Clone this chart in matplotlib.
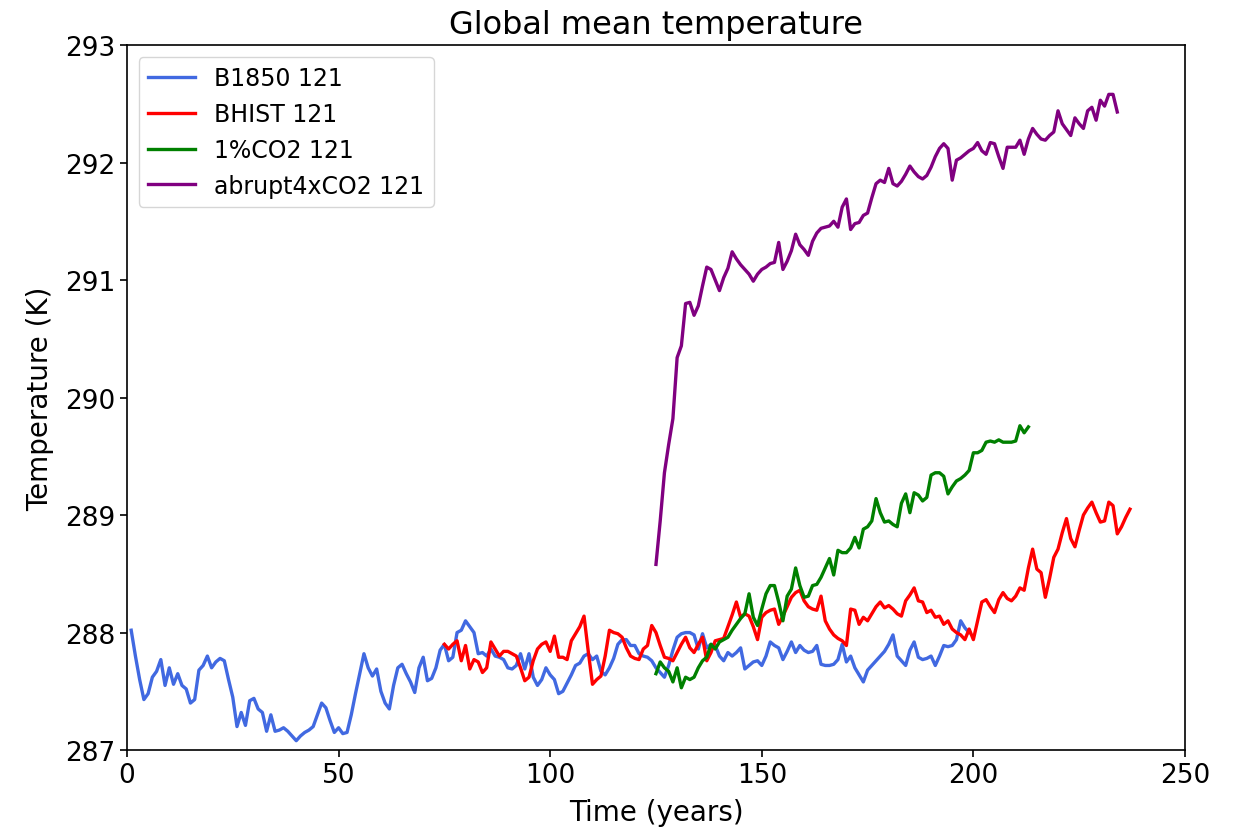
import matplotlib

matplotlib.use("Agg")
import matplotlib.pyplot as plt
import numpy as np

# annual global mean temperature (K)
b1850_start = 1
b1850 = [
    288.02, 287.80, 287.60, 287.43, 287.48, 287.62, 287.67, 287.77, 287.55, 287.70,
    287.56, 287.65, 287.55, 287.52, 287.40, 287.43, 287.68, 287.72, 287.80, 287.70,
    287.75, 287.78, 287.76, 287.60, 287.45, 287.20, 287.32, 287.21, 287.42, 287.44,
    287.35, 287.32, 287.16, 287.30, 287.16, 287.17, 287.19, 287.16, 287.12, 287.08,
    287.12, 287.15, 287.17, 287.20, 287.30, 287.40, 287.36, 287.25, 287.15, 287.19,
    287.14, 287.15, 287.30, 287.48, 287.65, 287.82, 287.70, 287.63, 287.69, 287.50,
    287.40, 287.35, 287.55, 287.70, 287.73, 287.65, 287.58, 287.49, 287.70, 287.79,
    287.59, 287.61, 287.70, 287.85, 287.90, 287.76, 287.79, 288.00, 288.02, 288.10,
    288.05, 288.00, 287.82, 287.83, 287.80, 287.86, 287.80, 287.79, 287.77, 287.70,
    287.69, 287.72, 287.82, 287.69, 287.82, 287.62, 287.55, 287.60, 287.70, 287.64,
    287.60, 287.48, 287.50, 287.57, 287.64, 287.72, 287.74, 287.80, 287.82, 287.77,
    287.80, 287.67, 287.64, 287.70, 287.78, 287.90, 287.94, 287.94, 287.89, 287.89,
    287.82, 287.80, 287.79, 287.76, 287.70, 287.66, 287.62, 287.72, 287.85, 287.96,
    287.99, 288.00, 288.00, 287.98, 287.86, 287.99, 287.87, 287.90, 287.89, 287.80,
    287.76, 287.83, 287.80, 287.83, 287.87, 287.69, 287.72, 287.75, 287.76, 287.72,
    287.80, 287.92, 287.89, 287.87, 287.77, 287.84, 287.92, 287.83, 287.89, 287.85,
    287.83, 287.84, 287.89, 287.73, 287.72, 287.72, 287.73, 287.77, 287.90, 287.75,
    287.80, 287.70, 287.64, 287.58, 287.68, 287.72, 287.76, 287.80, 287.84, 287.90,
    287.98, 287.80, 287.76, 287.72, 287.85, 287.92, 287.79, 287.77, 287.78, 287.80,
    287.72, 287.80, 287.89, 287.88, 287.89, 287.94, 288.10, 288.04, 288.00,
]

bhist_start = 75
bhist = [
    287.90, 287.86, 287.90, 287.93, 287.76, 287.89, 287.69, 287.77, 287.75, 287.66,
    287.70, 287.92, 287.86, 287.80, 287.84, 287.84, 287.82, 287.80, 287.70, 287.59,
    287.62, 287.76, 287.86, 287.90, 287.92, 287.84, 287.97, 287.79, 287.79, 287.77,
    287.93, 287.99, 288.05, 288.14, 287.84, 287.56, 287.60, 287.63, 287.80, 288.02,
    288.00, 287.99, 287.96, 287.87, 287.80, 287.78, 287.77, 287.86, 287.89, 288.06,
    288.00, 287.89, 287.79, 287.78, 287.76, 287.83, 287.90, 287.96, 287.87, 287.83,
    287.90, 287.96, 287.76, 287.83, 287.93, 287.94, 287.95, 288.05, 288.15, 288.26,
    288.13, 288.16, 288.14, 288.05, 287.94, 288.13, 288.17, 288.19, 288.20, 288.07,
    288.14, 288.22, 288.30, 288.34, 288.36, 288.27, 288.22, 288.20, 288.19, 288.31,
    288.10, 288.03, 287.98, 287.95, 287.93, 287.89, 288.20, 288.19, 288.07, 288.13,
    288.10, 288.16, 288.22, 288.26, 288.21, 288.23, 288.20, 288.16, 288.14, 288.27,
    288.32, 288.38, 288.27, 288.26, 288.17, 288.19, 288.13, 288.14, 288.07, 288.10,
    288.03, 288.00, 287.98, 287.94, 288.03, 287.94, 288.10, 288.26, 288.28, 288.22,
    288.17, 288.28, 288.34, 288.29, 288.27, 288.31, 288.38, 288.36, 288.55, 288.71,
    288.54, 288.51, 288.30, 288.46, 288.64, 288.71, 288.85, 288.97, 288.80, 288.73,
    288.87, 289.00, 289.06, 289.11, 289.02, 288.94, 288.95, 289.11, 289.08, 288.84,
    288.90, 288.98, 289.05,
]

co2_1pct_start = 125
co2_1pct = [
    287.65, 287.75, 287.70, 287.67, 287.58, 287.70, 287.53, 287.62, 287.60, 287.62,
    287.70, 287.76, 287.79, 287.90, 287.86, 287.92, 287.94, 287.96, 288.02, 288.07,
    288.12, 288.16, 288.33, 288.13, 288.06, 288.20, 288.33, 288.40, 288.40, 288.26,
    288.10, 288.31, 288.37, 288.55, 288.40, 288.30, 288.31, 288.40, 288.41, 288.47,
    288.55, 288.63, 288.49, 288.70, 288.68, 288.68, 288.72, 288.81, 288.72, 288.88,
    288.90, 288.95, 289.14, 289.02, 288.94, 288.95, 288.92, 288.90, 289.10, 289.18,
    289.02, 289.19, 289.17, 289.12, 289.15, 289.34, 289.36, 289.36, 289.33, 289.18,
    289.24, 289.29, 289.31, 289.34, 289.38, 289.53, 289.53, 289.55, 289.62, 289.63,
    289.62, 289.64, 289.62, 289.62, 289.62, 289.63, 289.76, 289.70, 289.75,
]

abrupt4x_start = 125
abrupt4x = [
    288.58, 288.95, 289.36, 289.60, 289.82, 290.34, 290.44, 290.80, 290.81, 290.70,
    290.78, 290.95, 291.11, 291.09, 291.00, 290.91, 291.02, 291.10, 291.24, 291.18,
    291.13, 291.09, 291.05, 290.99, 291.05, 291.09, 291.11, 291.14, 291.15, 291.32,
    291.09, 291.16, 291.25, 291.39, 291.30, 291.26, 291.21, 291.33, 291.40, 291.44,
    291.45, 291.46, 291.50, 291.45, 291.62, 291.69, 291.43, 291.48, 291.49, 291.55,
    291.57, 291.70, 291.82, 291.85, 291.83, 291.95, 291.82, 291.80, 291.84, 291.90,
    291.97, 291.92, 291.88, 291.86, 291.89, 291.96, 292.05, 292.12, 292.16, 292.12,
    291.85, 292.02, 292.04, 292.07, 292.10, 292.12, 292.17, 292.10, 292.07, 292.17,
    292.16, 292.05, 291.95, 292.13, 292.13, 292.13, 292.19, 292.07, 292.20, 292.29,
    292.24, 292.20, 292.19, 292.23, 292.26, 292.44, 292.33, 292.28, 292.23, 292.38,
    292.33, 292.29, 292.44, 292.47, 292.36, 292.53, 292.48, 292.58, 292.58, 292.43,
]

series = [
    ("B1850 121", b1850_start, b1850, "royalblue"),
    ("BHIST 121", bhist_start, bhist, "red"),
    ("1%CO2 121", co2_1pct_start, co2_1pct, "green"),
    ("abrupt4xCO2 121", abrupt4x_start, abrupt4x, "purple"),
]

fig = plt.figure(figsize=(12.35, 8.29), dpi=100)
ax = fig.add_axes([0.1028, 0.094, 0.8567, 0.8505])

for label, start, vals, color in series:
    years = np.arange(start, start + len(vals))
    ax.plot(years, vals, color=color, lw=2.4, label=label)

ax.set_xlim(0, 250)
ax.set_ylim(287, 293)
ax.set_title("Global mean temperature", fontsize=23, pad=9)
ax.set_xlabel("Time (years)", fontsize=20, labelpad=7)
ax.set_ylabel("Temperature (K)", fontsize=20, labelpad=8)
ax.tick_params(labelsize=19, length=5, width=1.2)
for sp in ax.spines.values():
    sp.set_linewidth(1.2)
ax.legend(loc="upper left", fontsize=17, handlelength=2.0)

fig.savefig("out.png", dpi=100)
plt.close(fig)
